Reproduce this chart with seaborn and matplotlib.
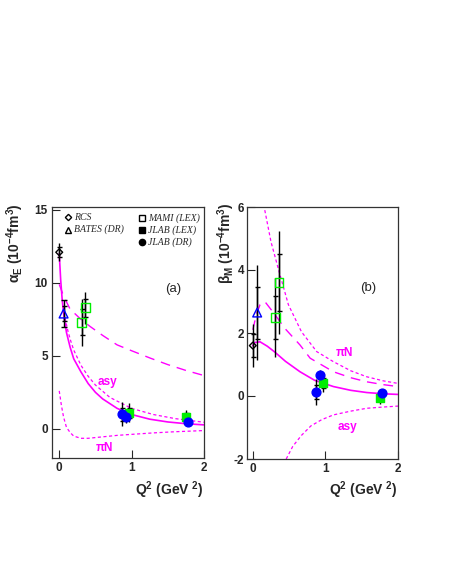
import numpy as np
import pandas as pd
import matplotlib
matplotlib.use("Agg")
import matplotlib.pyplot as plt
import seaborn as sns

sns.set_theme(style="ticks")
plt.rcParams['font.family'] = ['Liberation Sans', 'DejaVu Sans']
plt.rcParams['mathtext.fontset'] = 'custom'
plt.rcParams['mathtext.rm'] = 'Liberation Sans:bold'
plt.rcParams['mathtext.it'] = 'Liberation Sans:bold'
plt.rcParams['mathtext.bf'] = 'Liberation Sans:bold'
plt.rcParams['axes.unicode_minus'] = False

MAG = '#ff00ff'
GREEN = '#00ee00'
BLUE = '#0000ff'

# ---------------- alpha_E curves ----------------
aE_total_x = [0.0, 0.02, 0.04, 0.06, 0.1, 0.15, 0.2, 0.3, 0.4, 0.5, 0.6, 0.8, 1.0, 1.25, 1.5, 1.75, 2.0]
aE_total_y = [12.0, 10.2, 8.9, 7.9, 6.6, 5.6, 4.8, 3.9, 3.1, 2.5, 2.05, 1.4, 0.98, 0.66, 0.47, 0.35, 0.27]
aE_dr_x = [0.0, 0.06, 0.15, 0.3, 0.43, 0.6, 0.8, 1.0, 1.26, 1.5, 1.75, 2.0]
aE_dr_y = [9.9, 9.1, 8.2, 7.5, 7.0, 6.4, 5.75, 5.35, 4.84, 4.4, 4.0, 3.65]
aE_asy_x = [0.08, 0.12, 0.16, 0.2, 0.3, 0.4, 0.5, 0.7, 1.0, 1.3, 1.6, 2.0]
aE_asy_y = [7.6, 6.7, 6.0, 5.4, 4.35, 3.6, 3.0, 2.15, 1.4, 0.98, 0.7, 0.45]
aE_piN_x = [0.0, 0.03, 0.06, 0.1, 0.15, 0.2, 0.3, 0.4, 0.6, 0.8, 1.0, 1.3, 1.6, 2.0]
aE_piN_y = [2.6, 1.6, 0.8, 0.1, -0.25, -0.5, -0.65, -0.65, -0.55, -0.45, -0.38, -0.28, -0.2, -0.12]

# ---------------- beta_M curves ----------------
bM_total_x = [0.0, 0.03, 0.1, 0.2, 0.3, 0.45, 0.65, 0.85, 1.11, 1.35, 1.57, 1.8, 2.0]
bM_total_y = [1.6, 1.7, 1.72, 1.58, 1.4, 1.1, 0.77, 0.5, 0.3, 0.18, 0.11, 0.07, 0.05]
bM_dr_x = [0.0, 0.05, 0.1, 0.165, 0.3, 0.44, 0.65, 0.79, 1.11, 1.35, 1.57, 1.8, 2.0]
bM_dr_y = [2.1, 2.6, 2.9, 3.0, 2.6, 2.15, 1.62, 1.2, 0.77, 0.58, 0.45, 0.36, 0.3]
bM_piN_x = [0.165, 0.25, 0.35, 0.49, 0.67, 0.88, 1.11, 1.35, 1.57, 1.8, 2.0]
bM_piN_y = [5.9, 4.9, 4.05, 2.9, 2.04, 1.41, 1.09, 0.8, 0.61, 0.48, 0.40]
bM_asy_x = [0.46, 0.55, 0.67, 0.8, 0.95, 1.11, 1.35, 1.57, 1.8, 2.0]
bM_asy_y = [-2.0, -1.6, -1.25, -0.95, -0.75, -0.6, -0.48, -0.39, -0.35, -0.32]

# ---------------- data points ----------------
rcs_x = [0.0];  rcs_aE = [12.1]; rcs_aE_err = [0.6];  rcs_bM = [1.6];  rcs_bM_err = [0.68]
bates_x = [0.06]; bates_aE = [7.9]; bates_aE_err = [0.9]; bates_bM = [2.65]; bates_bM_err = [1.5]
mami_x = [0.31, 0.36]; mami_aE = [7.3, 8.3]; mami_aE_err = [1.6, 1.1]; mami_bM = [2.5, 3.6]; mami_bM_err = [1.25, 1.63]
jlex_x = [0.97, 1.75]; jlex_aE = [1.1, 0.8]; jlex_aE_err = [0.65, 0.5]; jlex_bM = [0.42, -0.06]; jlex_bM_err = [0.3, 0.2]
jdr_x = [0.87, 0.92, 1.78]; jdr_aE = [1.0, 0.82, 0.5]; jdr_aE_err = [0.82, 0.4, 0.3]; jdr_bM = [0.13, 0.66, 0.09]; jdr_bM_err = [0.42, 0.15, 0.13]

fig = plt.figure(figsize=(4.52, 5.85), dpi=100)
axL = fig.add_axes([52/452, 1-458/585, 152/452, 251/585])
axR = fig.add_axes([247/452, 1-459/585, 151/452, 252/585])


def curve(ax, xs, ys, style):
    df = pd.DataFrame({'x': xs, 'y': ys})
    if style == 'solid':
        sns.lineplot(data=df, x='x', y='y', ax=ax, color=MAG, lw=1.2, sort=False)
    elif style == 'long':
        sns.lineplot(data=df, x='x', y='y', ax=ax, color=MAG, lw=1.0, sort=False)
        ax.lines[-1].set_dashes([7, 5])
    else:
        sns.lineplot(data=df, x='x', y='y', ax=ax, color=MAG, lw=0.9, sort=False)
        ax.lines[-1].set_dashes([2.5, 2])


def points(ax, xs, ys, errs, marker, face, edge, ms, caps=False):
    ax.errorbar(xs, ys, yerr=errs, fmt='none', ecolor='black', elinewidth=1.0,
                capsize=2.5 if caps else 0, zorder=3)
    # stat tick marks
    ax.errorbar(xs, ys, yerr=[e * 0.55 for e in errs], fmt='none', ecolor='black',
                elinewidth=1.0, capsize=1.8, zorder=3)
    df = pd.DataFrame({'x': xs, 'y': ys})
    sns.scatterplot(data=df, x='x', y='y', ax=ax, marker=marker, s=ms,
                    facecolor=face, edgecolor=edge, linewidth=1.0, zorder=4)


for ax, tot, dr, asy, piN in [
    (axL, (aE_total_x, aE_total_y), (aE_dr_x, aE_dr_y), (aE_asy_x, aE_asy_y), (aE_piN_x, aE_piN_y)),
    (axR, (bM_total_x, bM_total_y), (bM_dr_x, bM_dr_y), (bM_asy_x, bM_asy_y), (bM_piN_x, bM_piN_y)),
]:
    curve(ax, *tot, 'solid')
    curve(ax, *dr, 'long')
    curve(ax, *asy, 'short')
    curve(ax, *piN, 'short')

points(axL, rcs_x, rcs_aE, rcs_aE_err, 'D', 'none', 'black', 12)
points(axL, bates_x, bates_aE, bates_aE_err, '^', 'none', BLUE, 40, caps=True)
points(axL, mami_x, mami_aE, mami_aE_err, 's', 'none', GREEN, 38)
points(axL, jlex_x, jlex_aE, jlex_aE_err, 's', GREEN, GREEN, 38)
points(axL, jdr_x, jdr_aE, jdr_aE_err, 'o', BLUE, BLUE, 40)

points(axR, rcs_x, rcs_bM, rcs_bM_err, 'D', 'none', 'black', 12)
points(axR, bates_x, bates_bM, bates_bM_err, '^', 'none', BLUE, 40)
points(axR, mami_x, mami_bM, mami_bM_err, 's', 'none', GREEN, 38)
points(axR, jlex_x, jlex_bM, jlex_bM_err, 's', GREEN, GREEN, 38)
points(axR, jdr_x, jdr_bM, jdr_bM_err, 'o', BLUE, BLUE, 40)

axL.set_xlim(-0.1, 2.0)
axL.set_ylim(-2.0, 15.2)
axR.set_xlim(-0.08, 2.0)
axR.set_ylim(-2.0, 6.0)
axL.set_xticks([0, 1, 2]); axL.set_yticks([0, 5, 10, 15])
axR.set_xticks([0, 1, 2]); axR.set_yticks([-2, 0, 2, 4, 6])
for ax in (axL, axR):
    ax.set_xlabel(''); ax.set_ylabel('')
    ax.tick_params(direction='in', length=6, width=0.8, labelsize=8.5, pad=3)
    for lab in ax.get_xticklabels() + ax.get_yticklabels():
        lab.set_fontweight('bold')
    for s in ax.spines.values():
        s.set_linewidth(0.9)
        s.set_color('#333333')
axR.tick_params(axis='y', pad=2)

# curve labels
axL.text(0.66, 3.2, 'asy', color=MAG, fontsize=8.5, fontweight='bold', ha='center', va='center')
axL.text(0.62, -1.3, r'$\pi$N', color=MAG, fontsize=8.5, fontweight='bold', ha='center', va='center')
axR.text(1.26, 1.37, r'$\pi$N', color=MAG, fontsize=8.5, fontweight='bold', ha='center', va='center')
axR.text(1.3, -0.97, 'asy', color=MAG, fontsize=8.5, fontweight='bold', ha='center', va='center')
axL.text(1.57, 9.6, '(a)', fontsize=9.5, ha='center', va='center')
axR.text(1.59, 3.43, '(b)', fontsize=9.5, ha='center', va='center')

# legend (drawn inside the left panel)
leg_font = dict(family='Liberation Serif', style='italic', fontsize=7, va='center', ha='left')
axL.plot([0.12], [14.5], marker='D', ms=3.2, mfc='none', mec='black', mew=1.0)
axL.text(0.2, 14.5, 'RCS', **leg_font)
axL.plot([0.12], [13.65], marker='^', ms=5, mfc='none', mec='black', mew=1.0)
axL.text(0.2, 13.65, 'BATES (DR)', **leg_font)
axL.plot([1.14], [14.45], marker='s', ms=5, mfc='none', mec='black', mew=1.0)
axL.text(1.23, 14.45, 'MAMI (LEX)', **leg_font)
axL.plot([1.14], [13.6], marker='s', ms=4.5, mfc='black', mec='black')
axL.text(1.23, 13.6, 'JLAB (LEX)', **leg_font)
axL.plot([1.14], [12.8], marker='o', ms=4.5, mfc='black', mec='black')
axL.text(1.23, 12.8, 'JLAB (DR)', **leg_font)

# axis labels
fig.text(15/452, 1-203/585, r'$\alpha_E$ (10$^{-4}$fm$^3$)', rotation=90, ha='center', va='top',
         fontsize=10, fontweight='bold')
fig.text(226/452, 1-203/585, r'$\beta_M$ (10$^{-4}$fm$^3$)', rotation=90, ha='center', va='top',
         fontsize=10, fontweight='bold')
fig.text(204/452, 1-490/585, r'Q$^2$ (GeV $^2$)', ha='right', va='center', fontsize=10, fontweight='bold')
fig.text(398/452, 1-490/585, r'Q$^2$ (GeV $^2$)', ha='right', va='center', fontsize=10, fontweight='bold')

fig.savefig('out.png', dpi=100)
